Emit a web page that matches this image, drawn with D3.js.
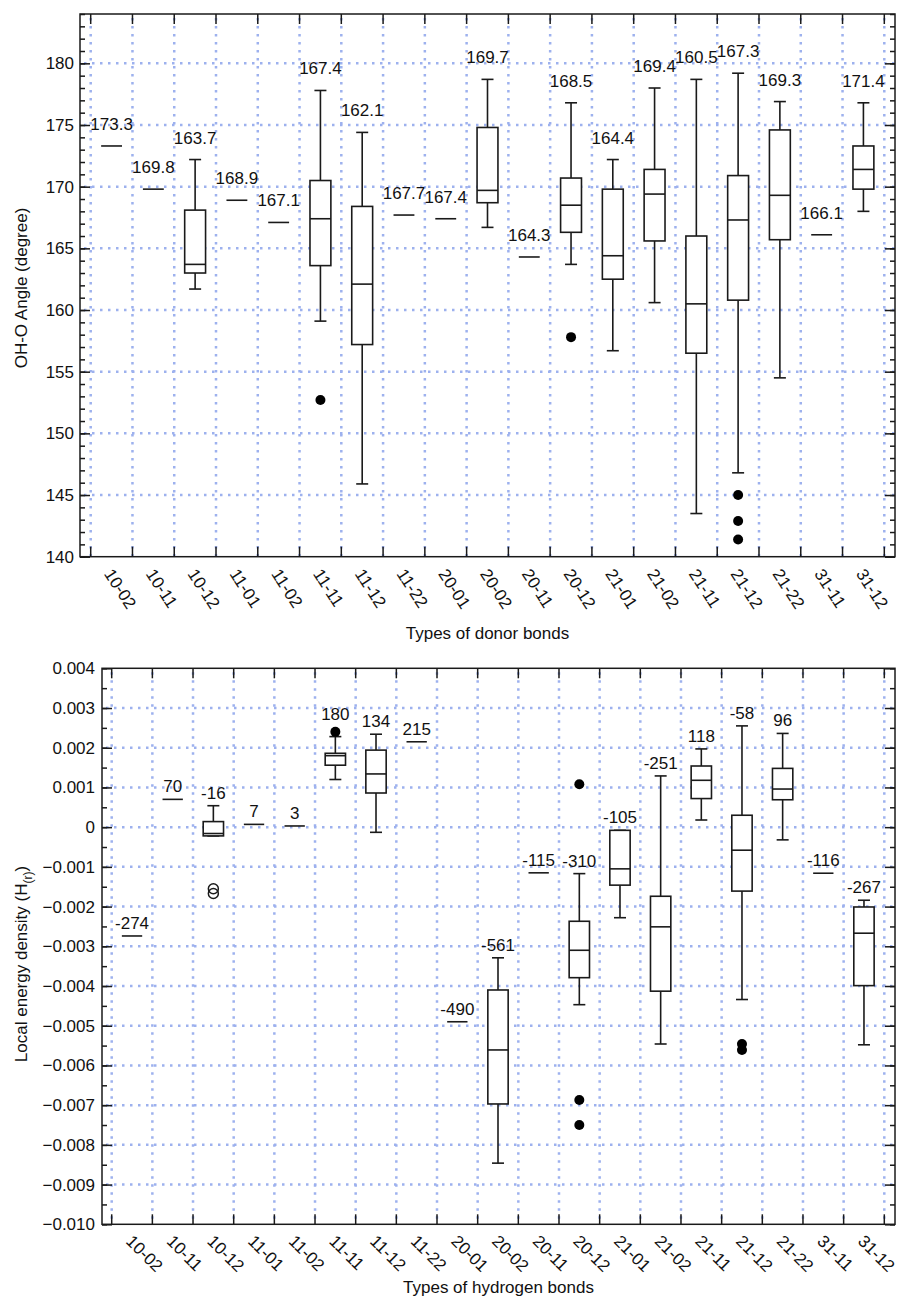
<!DOCTYPE html>
<html>
<head>
<meta charset="utf-8">
<script src="https://cdn.jsdelivr.net/npm/d3@7"></script>
<style>
  body { margin: 0; background: #fff; }
  svg text { font-family: "Liberation Sans", Arial, Helvetica, sans-serif; fill: #111; }
</style>
</head>
<body>
<svg id="chart" width="897" height="1298"></svg>
<script>
// bond type categories (shared by both panels)
const bondTypes = ['10-02', '10-11', '10-12', '11-01', '11-02', '11-11', '11-12', '11-22', '20-01', '20-02',
  '20-11', '20-12', '21-01', '21-02', '21-11', '21-12', '21-22', '31-11', '31-12'];

// OH-O angle (degree): median, quartiles, whisker ends, outliers
const angleMed = [173.3, 169.8, 163.7, 168.9, 167.1, 167.4, 162.1, 167.7, 167.4, 169.7, 164.3, 168.5, 164.4, 169.4, 160.5, 167.3, 169.3, 166.1, 171.4];
const angleQ1 = [null, null, 163.0, null, null, 163.6, 157.2, null, null, 168.7, null, 166.3, 162.5, 165.6, 156.5, 160.8, 165.7, null, 169.8];
const angleQ3 = [null, null, 168.1, null, null, 170.5, 168.4, null, null, 174.8, null, 170.7, 169.8, 171.4, 166.0, 170.9, 174.6, null, 173.3];
const angleLo = [null, null, 161.7, null, null, 159.1, 145.9, null, null, 166.7, null, 163.7, 156.7, 160.6, 143.5, 146.8, 154.5, null, 168.0];
const angleHi = [null, null, 172.2, null, null, 177.8, 174.4, null, null, 178.7, null, 176.8, 172.2, 178.0, 178.7, 179.2, 176.9, null, 176.8];
const angleOut = [[], [], [], [], [], [152.7], [], [], [], [], [], [157.8], [], [], [], [145.0, 142.9, 141.4], [], [], []];
const angleTicks = [140, 145, 150, 155, 160, 165, 170, 175, 180];
const angleMinor = d3.range(140, 185, 1);

// local energy density H(r)
const energyMed = [-0.00274, 0.00070, -0.00016, 0.00007, 0.00003, 0.00180, 0.00134, 0.00215, -0.00490, -0.00561, -0.00115, -0.00310, -0.00105, -0.00251, 0.00118, -0.00058, 0.00096, -0.00116, -0.00267];
const energyQ1 = [null, null, -0.00022, null, null, 0.00156, 0.00086, null, null, -0.00697, null, -0.00379, -0.00146, -0.00413, 0.00072, -0.00161, 0.00069, null, -0.00399];
const energyQ3 = [null, null, 0.00014, null, null, 0.00186, 0.00194, null, null, -0.00410, null, -0.00237, -0.00008, -0.00174, 0.00154, 0.00030, 0.00148, null, -0.00201];
const energyLo = [null, null, -0.00022, null, null, 0.00120, -0.00013, null, null, -0.00846, null, -0.00447, -0.00228, -0.00546, 0.00018, -0.00434, -0.00032, null, -0.00548];
const energyHi = [null, null, 0.00054, null, null, 0.00228, 0.00234, null, null, -0.00329, null, -0.00117, -0.00008, 0.00129, 0.00197, 0.00255, 0.00236, null, -0.00184];
const energyOut = [[], [], [], [], [], [0.0024], [], [], [], [], [], [0.00108, -0.00687, -0.0075], [], [], [], [-0.00546, -0.00561], [], [], []];
const energyOpen = [[], [], [-0.00155, -0.00167], [], [], [], [], [], [], [], [], [], [], [], [], [], [], [], []];
const energyTicks = [-0.010, -0.009, -0.008, -0.007, -0.006, -0.005, -0.004, -0.003, -0.002, -0.001, 0, 0.001, 0.002, 0.003, 0.004];
const energyMinor = d3.range(-20, 9).map(k => k / 2000);

const svg = d3.select('#chart');
const ink = '#1a1a1a';
const gridColor = '#9db1ee';

function panel(o) {
  const g = svg.append('g');
  const x = d3.scaleBand().domain(bondTypes).range([o.bandStart, o.bandEnd]);
  const y = d3.scaleLinear().domain(o.domain).range([o.bottom, o.top]);
  const edges = bondTypes.map(c => x(c)).concat([o.bandEnd]);
  const bw = x.bandwidth();

  // dotted grid
  const grid = g.append('g')
    .attr('stroke', gridColor)
    .attr('stroke-width', 2.5)
    .attr('stroke-dasharray', '2.5,5.5');
  grid.selectAll('.vg').data(edges).join('line')
    .attr('x1', d => d).attr('x2', d => d)
    .attr('y1', o.top + 4).attr('y2', o.bottom);
  grid.selectAll('.hg').data(o.ticks.filter(t => y(t) > o.top + 1 && y(t) < o.bottom - 1)).join('line')
    .attr('x1', o.left + 4).attr('x2', o.right)
    .attr('y1', d => y(d)).attr('y2', d => y(d));

  // y axes, ticks pointing inward
  const axes = g.append('g').attr('color', ink);
  axes.append('g').attr('transform', `translate(${o.left},0)`)
    .call(d3.axisLeft(y).tickValues(o.minor).tickSize(-5).tickFormat(''));
  axes.append('g').attr('transform', `translate(${o.left},0)`)
    .call(d3.axisLeft(y).tickValues(o.ticks).tickSize(-10).tickPadding(o.pad).tickFormat(o.fmt))
    .attr('font-size', 17).attr('font-family', null);
  axes.append('g').attr('transform', `translate(${o.right},0)`)
    .call(d3.axisRight(y).tickValues(o.minor).tickSize(-5).tickFormat(''));
  axes.append('g').attr('transform', `translate(${o.right},0)`)
    .call(d3.axisRight(y).tickValues(o.ticks).tickSize(-10).tickFormat(''));
  axes.selectAll('.domain').remove();
  axes.selectAll('.tick line').attr('stroke-width', 1.5);

  // x ticks on band edges, top and bottom
  const xt = g.append('g').attr('stroke', ink).attr('stroke-width', 1.5);
  xt.selectAll('.b').data(edges).join('line')
    .attr('x1', d => d).attr('x2', d => d).attr('y1', o.bottom).attr('y2', o.bottom - 10);
  xt.selectAll('.t').data(edges).join('line')
    .attr('x1', d => d).attr('x2', d => d).attr('y1', o.top).attr('y2', o.top + 10);

  // frame
  g.append('rect')
    .attr('x', o.left).attr('y', o.top)
    .attr('width', o.right - o.left).attr('height', o.bottom - o.top)
    .attr('fill', 'none').attr('stroke', ink).attr('stroke-width', 1.5);

  // rotated category labels
  g.append('g').attr('font-size', 17)
    .selectAll('text').data(bondTypes).join('text')
    .attr('transform', d => `translate(${x(d) + bw / 2 + o.lx},${o.bottom + o.ly}) rotate(${o.rot})`)
    .attr('text-anchor', 'start')
    .text(d => d);

  // boxes
  const boxW = bw * 0.5, capW = 12;
  const marks = g.append('g').attr('stroke', ink).attr('stroke-width', 1.6).attr('fill', 'none');
  bondTypes.forEach((c, i) => {
    const cx = x(c) + bw / 2;
    const med = o.med[i];
    if (o.q1[i] !== null) {
      const lo = o.lo[i], hi = o.hi[i], q1 = o.q1[i], q3 = o.q3[i];
      marks.append('line').attr('x1', cx).attr('x2', cx).attr('y1', y(hi)).attr('y2', y(q3));
      marks.append('line').attr('x1', cx).attr('x2', cx).attr('y1', y(q1)).attr('y2', y(lo));
      marks.append('line').attr('x1', cx - capW / 2).attr('x2', cx + capW / 2).attr('y1', y(hi)).attr('y2', y(hi));
      marks.append('line').attr('x1', cx - capW / 2).attr('x2', cx + capW / 2).attr('y1', y(lo)).attr('y2', y(lo));
      marks.append('rect').attr('x', cx - boxW / 2).attr('y', y(q3))
        .attr('width', boxW).attr('height', y(q1) - y(q3)).attr('fill', '#fff');
    }
    marks.append('line').attr('x1', cx - boxW / 2).attr('x2', cx + boxW / 2).attr('y1', y(med)).attr('y2', y(med));

    o.out[i].forEach(v => {
      g.append('circle').attr('cx', cx).attr('cy', y(v)).attr('r', 5).attr('fill', '#000');
    });
    (o.open ? o.open[i] : []).forEach(v => {
      g.append('circle').attr('cx', cx).attr('cy', y(v)).attr('r', 5)
        .attr('fill', 'none').attr('stroke', ink).attr('stroke-width', 1.5);
    });

    // value label above the whisker (or above an outlier sitting right on top of it)
    let anchor = y(o.hi[i] !== null ? o.hi[i] : med);
    o.out[i].forEach(v => {
      if (y(v) < anchor && y(v) > anchor - 20) anchor = y(v) - 5;
    });
    g.append('text')
      .attr('x', cx).attr('y', anchor - o.labelGap)
      .attr('text-anchor', 'middle').attr('font-size', 17)
      .text(o.label(med));
  });

  // axis titles
  g.append('text')
    .attr('x', o.xTitleX).attr('y', o.xTitleY)
    .attr('text-anchor', 'middle').attr('font-size', 17)
    .text(o.xTitle);
  const yt = g.append('text')
    .attr('transform', `translate(27,${o.yTitleY}) rotate(-90)`)
    .attr('text-anchor', 'middle').attr('font-size', 17);
  o.yTitle(yt);
}

panel({
  left: 80, right: 895, top: 14, bottom: 556.7,
  bandStart: 90.7, bandEnd: 884.3,
  domain: [140, 184], ticks: angleTicks, minor: angleMinor,
  fmt: d3.format('d'), pad: 6,
  med: angleMed, q1: angleQ1, q3: angleQ3, lo: angleLo, hi: angleHi, out: angleOut,
  label: v => v.toFixed(1), labelGap: 16,
  rot: 57, lx: -8, ly: 17,
  xTitle: 'Types of donor bonds', xTitleX: 487.5, xTitleY: 639,
  yTitleY: 288,
  yTitle: t => t.text('OH-O Angle (degree)')
});

panel({
  left: 102, right: 895, top: 668.3, bottom: 1224.3,
  bandStart: 111.7, bandEnd: 884.3,
  domain: [-0.010, 0.004], ticks: energyTicks, minor: energyMinor,
  fmt: d => (d === 0 ? '0' : d3.format('.3f')(d)), pad: 7,
  med: energyMed, q1: energyQ1, q3: energyQ3, lo: energyLo, hi: energyHi, out: energyOut, open: energyOpen,
  label: v => String(Math.round(v * 1e5)), labelGap: 7,
  rot: 45, lx: -7, ly: 18,
  xTitle: 'Types of hydrogen bonds', xTitleX: 498.5, xTitleY: 1293,
  yTitleY: 964,
  yTitle: t => {
    t.append('tspan').text('Local energy density (H');
    t.append('tspan').attr('font-size', 12).attr('dy', 5).text('(r)');
    t.append('tspan').attr('dy', -5).text(')');
  }
});
</script>
</body>
</html>
